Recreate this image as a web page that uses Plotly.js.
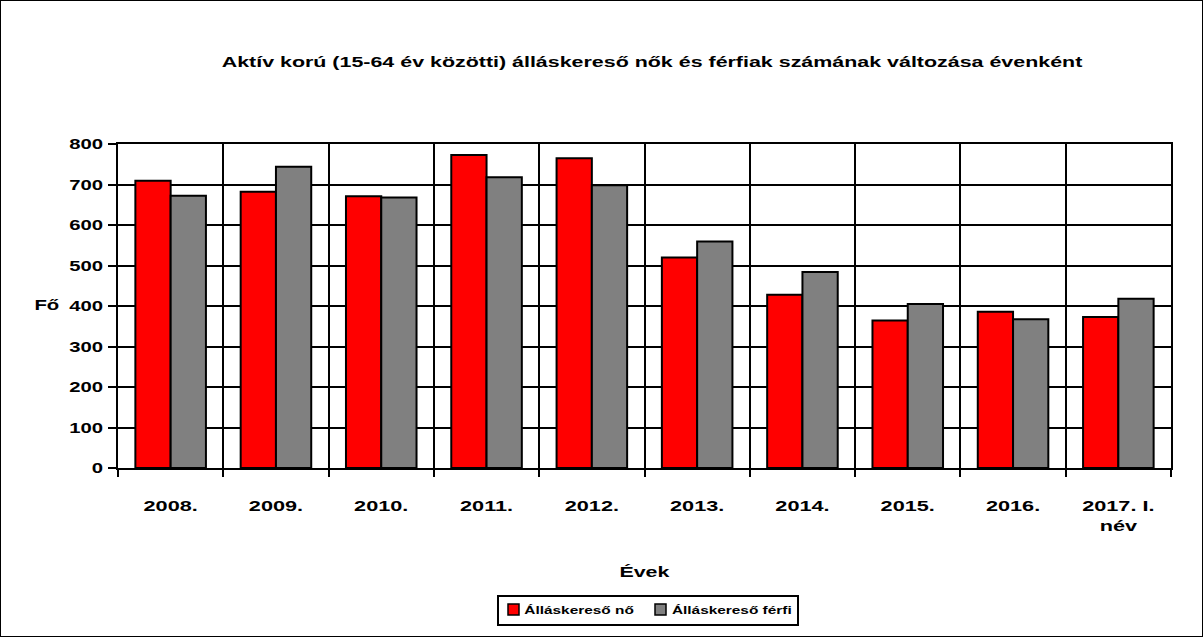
<!DOCTYPE html>
<html>
<head>
<meta charset="utf-8">
<script src="https://cdn.plot.ly/plotly-3.0.1.min.js"></script>
<style>
html,body{margin:0;padding:0;background:#fff;}
#wrap{position:relative;width:1203px;height:637px;}
#chart{width:1203px;height:637px;}
#frame{position:absolute;left:0;top:0;width:1203px;height:637px;border:1px solid #000;box-sizing:border-box;pointer-events:none;}
</style>
</head>
<body>
<div id="wrap"><div id="chart"></div><div id="frame"></div></div>
<script>
const categories = ["2008.", "2009.", "2010.", "2011.", "2012.", "2013.", "2014.", "2015.", "2016.", "2017. I.<br>név"];
const seriesNames = ["Álláskereső nő", "Álláskereső férfi"];
const noValues = [709, 682, 671, 773, 765, 520, 428, 364, 386, 373];
const ferfiValues = [672, 744, 668, 718, 698, 559, 484, 405, 367, 418];
const yTicks = [0, 100, 200, 300, 400, 500, 600, 700, 800];
const colors = ["#ff0000", "#808080"];

const FONT = "Liberation Sans, Arial, sans-serif";
const STRETCH = 1.4;   // reference text is horizontally stretched

// plot area in pixels
const L = 118, R = 32, T = 144, B = 169, W = 1203, H = 637;
const PW = W - L - R, PH = H - T - B;
const px = x => (x - L) / PW;
const py = y => (H - B - y) / PH;

const traces = [
  {type: "bar", name: seriesNames[0], x: categories, y: noValues, showlegend: false,
   marker: {color: colors[0], line: {color: "#000", width: 2}}},
  {type: "bar", name: seriesNames[1], x: categories, y: ferfiValues, showlegend: false,
   marker: {color: colors[1], line: {color: "#000", width: 2}}}
];

// legend drawn as shapes + annotations
const legBox = {x0: 498, x1: 798, y0: 596, y1: 625};
const legItems = [
  {sq: [508, 519], textCenter: 579},
  {sq: [655, 666], textCenter: 732}
];
const shapes = [{
  type: "rect", xref: "paper", yref: "paper",
  x0: px(legBox.x0), x1: px(legBox.x1), y0: py(legBox.y1), y1: py(legBox.y0),
  line: {color: "#000", width: 2}, fillcolor: "#fff", layer: "above"
}];
const annotations = [{
  text: "<b>Fő</b>", xref: "paper", yref: "paper", x: px(47), y: py(305),
  xanchor: "center", yanchor: "middle", showarrow: false,
  font: {family: FONT, size: 14.5, color: "#000"}
}];
legItems.forEach((it, i) => {
  shapes.push({
    type: "rect", xref: "paper", yref: "paper",
    x0: px(it.sq[0]), x1: px(it.sq[1]), y0: py(615), y1: py(604),
    line: {color: "#000", width: 1.5}, fillcolor: colors[i], layer: "above"
  });
  annotations.push({
    text: "<b>" + seriesNames[i] + "</b>", xref: "paper", yref: "paper",
    x: px(it.textCenter), y: py(609.5), xanchor: "center", yanchor: "middle",
    showarrow: false, font: {family: FONT, size: 11, color: "#000"}
  });
});

const layout = {
  width: W, height: H,
  margin: {l: L, r: R, t: T, b: B},
  paper_bgcolor: "#fff", plot_bgcolor: "#fff",
  font: {family: FONT, color: "#000", size: 14},
  barmode: "group", bargap: 0.33, bargroupgap: 0,
  showlegend: false,
  title: {text: "<b>Aktív korú (15-64 év közötti) álláskereső nők és férfiak számának változása évenként</b>",
          font: {family: FONT, size: 15.3, color: "#000"},
          xref: "paper", x: px(652), xanchor: "center", yref: "container", y: 1 - 62 / H, yanchor: "middle"},
  xaxis: {
    type: "category", tickson: "boundaries",
    showgrid: true, gridcolor: "#000", gridwidth: 2,
    showline: true, linecolor: "#000", linewidth: 2, mirror: true,
    ticks: "outside", ticklen: 7, tickwidth: 2, tickcolor: "#000",
    tickfont: {family: FONT, size: 15.5, color: "#000", weight: "bold"},
    ticklabelstandoff: 22,
    title: {text: "<b>Évek</b>", font: {family: FONT, size: 15.3, color: "#000"}, standoff: 34},
    fixedrange: true
  },
  yaxis: {
    range: [0, 800], tickvals: yTicks, ticktext: yTicks.map(v => "<b>" + v + "</b>"),
    showgrid: true, gridcolor: "#000", gridwidth: 2, zeroline: false,
    showline: true, linecolor: "#000", linewidth: 2, mirror: true,
    ticks: "outside", ticklen: 8, tickwidth: 2, tickcolor: "#000",
    tickfont: {family: FONT, size: 14.5, color: "#000"},
    ticklabelstandoff: 2,
    fixedrange: true
  },
  shapes: shapes,
  annotations: annotations
};

Plotly.newPlot("chart", traces, layout, {displayModeBar: false, staticPlot: true}).then(gd => {
  gd.querySelectorAll("svg text").forEach(t => {
    let bb;
    try { bb = t.getBBox(); } catch (e) { return; }
    if (!bb || !bb.width) return;
    const anchor = t.getAttribute("text-anchor") || getComputedStyle(t).textAnchor || "start";
    let pivot = bb.x;
    if (anchor === "middle") pivot = bb.x + bb.width / 2;
    else if (anchor === "end") pivot = bb.x + bb.width;
    const prev = t.getAttribute("transform") || "";
    t.setAttribute("transform", prev + " translate(" + pivot + ",0) scale(" + STRETCH + ",1) translate(" + (-pivot) + ",0)");
  });
});
</script>
</body>
</html>
